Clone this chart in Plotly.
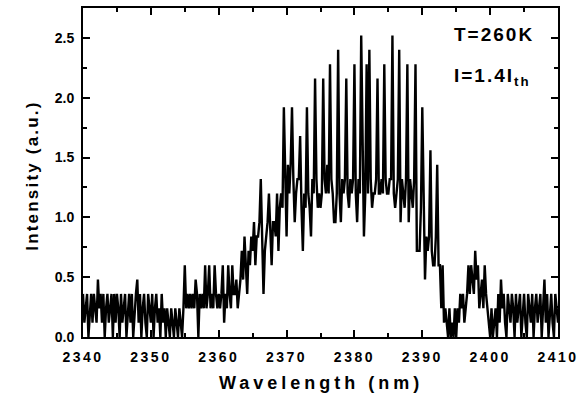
import plotly.graph_objects as go

# Sample grid of the spectrum (nm)
wl_start = 2340.0
wl_step = 0.2

# Intensity (a.u.), 5 samples per nm
noise_left = [
    0.36, 0.12, 0.24, 0.36, 0.0,   # 2340
    0.24, 0.36, 0.12, 0.36, 0.24,  # 2341
    0.12, 0.48, 0.24, 0.36, 0.12,  # 2342
    0.36, 0.0, 0.24, 0.36, 0.12,   # 2343
    0.24, 0.36, 0.0, 0.36, 0.12,   # 2344
    0.36, 0.24, 0.0, 0.36, 0.12,   # 2345
    0.24, 0.36, 0.0, 0.24, 0.36,   # 2346
    0.12, 0.36, 0.0, 0.24, 0.36,   # 2347
    0.48, 0.12, 0.36, 0.0, 0.24,   # 2348
    0.36, 0.12, 0.0, 0.36, 0.24,   # 2349
    0.12, 0.36, 0.0, 0.24, 0.36,   # 2350
    0.12, 0.24, 0.0, 0.36, 0.12,   # 2351
    0.24, 0.0, 0.24, 0.12, 0.0,    # 2352
    0.24, 0.12, 0.0, 0.24, 0.12,   # 2353
    0.0, 0.24, 0.12, 0.0, 0.24,    # 2354
    0.6, 0.24, 0.36, 0.24, 0.36,   # 2355
    0.24, 0.36, 0.24, 0.48, 0.36,  # 2356
    0.0, 0.36, 0.24, 0.36, 0.24,   # 2357
    0.6, 0.24, 0.36, 0.6, 0.24,    # 2358
    0.36, 0.24, 0.6, 0.36, 0.24,   # 2359
]

emission = [
    0.36, 0.24, 0.36, 0.6, 0.12,   # 2360
    0.36, 0.24, 0.6, 0.36, 0.24,   # 2361
    0.6, 0.36, 0.36, 0.48, 0.24,   # 2362
    0.36, 0.48, 0.72, 0.48, 0.84,  # 2363
    0.6, 0.36, 0.72, 0.6, 0.84,    # 2364
    0.72, 0.96, 0.6, 0.84, 0.84,   # 2365
    0.96, 1.32, 0.84, 0.36, 0.72,  # 2366
    0.84, 0.96, 1.2, 0.84, 0.6,    # 2367
    0.96, 0.96, 0.84, 1.2, 0.72,   # 2368
    1.08, 1.2, 1.08, 1.92, 1.2,    # 2369
    0.84, 1.44, 1.2, 1.44, 1.92,   # 2370
    1.32, 0.96, 1.2, 1.32, 1.32,   # 2371
    1.68, 1.08, 0.72, 1.2, 1.08,   # 2372
    1.92, 1.2, 1.08, 0.84, 1.32,   # 2373
    1.2, 2.16, 1.32, 1.08, 1.2,    # 2374
    1.08, 1.2, 2.16, 1.32, 1.2,    # 2375
    1.44, 1.2, 2.28, 1.32, 1.2,    # 2376
    0.96, 0.96, 1.2, 2.4, 1.2,     # 2377
    0.96, 1.32, 1.2, 1.32, 2.16,   # 2378
    1.2, 1.08, 1.32, 1.2, 1.32,    # 2379
    2.28, 1.2, 0.96, 1.32, 1.2,    # 2380
    2.52, 1.44, 0.84, 1.2, 2.28,   # 2381
    1.2, 2.4, 1.32, 1.08, 1.2,     # 2382
    1.2, 1.32, 2.16, 1.2, 1.2,     # 2383
    1.32, 1.2, 2.28, 1.32, 1.2,    # 2384
    1.2, 1.32, 1.32, 2.52, 1.2,    # 2385
    1.08, 1.2, 1.32, 2.4, 0.96,    # 2386
    1.32, 1.2, 1.08, 1.32, 2.28,   # 2387
    0.96, 1.32, 1.2, 1.08, 1.32,   # 2388
    2.28, 0.72, 0.72, 0.72, 1.08,  # 2389
    1.92, 1.2, 0.48, 0.84, 0.72,   # 2390
    0.84, 1.56, 0.72, 0.6, 0.6,    # 2391
    0.84, 1.44, 0.6, 0.6, 0.24,    # 2392
    0.6, 0.12, 0.24, 0.12, 0.0,    # 2393
]

noise_right = [
    0.24, 0.0, 0.12, 0.0, 0.24,    # 2394
    0.0, 0.24, 0.12, 0.36, 0.24,   # 2395
    0.36, 0.12, 0.24, 0.36, 0.6,   # 2396
    0.36, 0.6, 0.48, 0.36, 0.72,   # 2397
    0.48, 0.6, 0.24, 0.36, 0.48,   # 2398
    0.24, 0.6, 0.36, 0.24, 0.12,   # 2399
    0.0, 0.24, 0.0, 0.12, 0.24,    # 2400
    0.0, 0.36, 0.12, 0.48, 0.24,   # 2401
    0.36, 0.12, 0.0, 0.36, 0.24,   # 2402
    0.12, 0.36, 0.24, 0.0, 0.36,   # 2403
    0.12, 0.24, 0.36, 0.0, 0.24,   # 2404
    0.36, 0.12, 0.0, 0.36, 0.24,   # 2405
    0.12, 0.36, 0.0, 0.24, 0.36,   # 2406
    0.12, 0.24, 0.36, 0.0, 0.24,   # 2407
    0.48, 0.12, 0.36, 0.0, 0.24,   # 2408
    0.36, 0.12, 0.0, 0.36, 0.24,   # 2409
    0.12,                          # 2410
]

x_ticks = [2340, 2350, 2360, 2370, 2380, 2390, 2400, 2410]
y_ticks = [0.0, 0.5, 1.0, 1.5, 2.0, 2.5]

intensity = noise_left + emission + noise_right
wavelength = [round(wl_start + wl_step * i, 1) for i in range(len(intensity))]

FONT = "Liberation Sans, Arial, sans-serif"

fig = go.Figure()
fig.add_trace(go.Scatter(
    x=wavelength, y=intensity, mode="lines",
    line=dict(color="black", width=2.4),
    showlegend=False, hoverinfo="skip",
))

axis_common = dict(
    showline=True, linecolor="black", linewidth=2, mirror="allticks",
    ticks="inside", tickcolor="black", tickwidth=1.5,
    showgrid=False, zeroline=False,
    tickfont=dict(family=FONT, size=14, color="black", weight="bold"),
)

fig.update_xaxes(
    range=[2340, 2410], tickvals=x_ticks,
    ticktext=[f"<span style='letter-spacing:2.5px'>{v}</span>" for v in x_ticks],
    ticklen=7, ticklabelstandoff=6,
    minor=dict(dtick=5, ticks="inside", ticklen=4, tickcolor="black", tickwidth=1.5),
    **axis_common,
)
fig.update_yaxes(
    range=[0, 2.75], tickvals=y_ticks,
    ticktext=[f"{v:.1f}\u00a0" for v in y_ticks],
    ticklen=7,
    minor=dict(dtick=0.25, ticks="inside", ticklen=4, tickcolor="black", tickwidth=1.5),
    **axis_common,
)

# Axis titles (placed in paper units; plot spans pixel rows 6..337, columns 83..558)
fig.add_annotation(
    x=0.5, y=(337 - 383) / 331, xref="paper", yref="paper", showarrow=False,
    text="<span style='letter-spacing:4px'>Wavelength (nm)</span>",
    font=dict(family=FONT, size=18, color="black", weight="bold"),
    xanchor="center", yanchor="middle",
)
fig.add_annotation(
    x=(33 - 83) / 475, y=0.49, xref="paper", yref="paper", showarrow=False,
    text="<span style='letter-spacing:2.2px'>Intensity (a.u.)</span>",
    font=dict(family=FONT, size=17, color="black", weight="bold"),
    textangle=-90, xanchor="center", yanchor="middle",
)

fig.add_annotation(
    x=0.777, y=0.92, xref="paper", yref="paper", xanchor="left", yanchor="middle",
    text="<span style='letter-spacing:2px'>T=260K</span>", showarrow=False,
    font=dict(family=FONT, size=19, color="black", weight="bold"),
)
fig.add_annotation(
    x=0.777, y=0.79, xref="paper", yref="paper", xanchor="left", yanchor="middle",
    text="<span style='letter-spacing:2px'>I=1.4I<sub>th</sub></span>", showarrow=False,
    font=dict(family=FONT, size=19, color="black", weight="bold"),
)

fig.update_layout(
    width=587, height=399,
    margin=dict(l=83, r=29, t=6, b=62),
    paper_bgcolor="white", plot_bgcolor="white",
)

fig.write_html("out.html")
